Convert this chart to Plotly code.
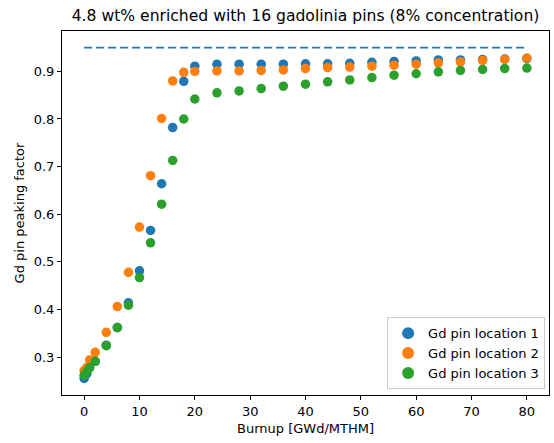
import plotly.graph_objects as go

burnup = [0, 0.5, 1, 2, 4, 6, 8, 10, 12, 14, 16, 18, 20, 24, 28, 32, 36, 40,
          44, 48, 52, 56, 60, 64, 68, 72, 76, 80]

loc1 = [0.255, 0.265, 0.278, 0.291, 0.325, 0.362, 0.414, 0.481, 0.566, 0.664,
        0.782, 0.879, 0.911, 0.915, 0.915, 0.915, 0.915, 0.916, 0.916, 0.917,
        0.919, 0.921, 0.922, 0.924, 0.924, 0.925, 0.926, 0.927]

loc2 = [0.272, 0.278, 0.294, 0.310, 0.352, 0.406, 0.478, 0.573, 0.681, 0.801,
        0.880, 0.898, 0.900, 0.901, 0.901, 0.902, 0.903, 0.906, 0.908, 0.909,
        0.911, 0.913, 0.915, 0.918, 0.920, 0.923, 0.925, 0.928]

loc3 = [0.262, 0.270, 0.278, 0.291, 0.324, 0.362, 0.409, 0.467, 0.540, 0.621,
        0.713, 0.800, 0.842, 0.855, 0.859, 0.864, 0.869, 0.873, 0.878, 0.882,
        0.887, 0.892, 0.895, 0.899, 0.902, 0.904, 0.906, 0.907]

limit_x = [0, 80]
limit_y = [0.95, 0.95]

names = ["Gd pin location 1", "Gd pin location 2", "Gd pin location 3"]
colors = ["#1f77b4", "#ff7f0e", "#2ca02c"]

font = "DejaVu Sans"

fig = go.Figure()
fig.add_trace(go.Scatter(x=limit_x, y=limit_y, mode="lines",
                         line=dict(color="#1f77b4", width=1.8, dash="8px,4px"),
                         showlegend=False, hoverinfo="skip"))
for name, vals, c in zip(names, [loc1, loc2, loc3], colors):
    fig.add_trace(go.Scatter(x=burnup, y=vals, mode="markers", name=name,
                             marker=dict(color=c, size=9.5, line=dict(width=0))))

axis_common = dict(showline=True, linecolor="black", linewidth=1, mirror=True,
                   ticks="outside", ticklen=4, tickwidth=1, tickcolor="black",
                   showgrid=False, zeroline=False,
                   tickfont=dict(family=font, size=13, color="black"))

fig.update_layout(
    width=554, height=443,
    margin=dict(l=62, r=5, t=31, b=48),
    paper_bgcolor="white", plot_bgcolor="white",
    font=dict(family=font, size=13, color="black"),
    title=dict(text="4.8 wt% enriched with 16 gadolinia pins (8% concentration)",
               x=305.5 / 554, xanchor="center", y=1 - 16 / 443, yanchor="middle",
               font=dict(family=font, size=15.6, color="black")),
    xaxis=dict(range=[-4, 84], tickvals=[0, 10, 20, 30, 40, 50, 60, 70, 80],
               title=dict(text="Burnup [GWd/MTHM]", standoff=6,
                          font=dict(family=font, size=13)),
               **axis_common),
    yaxis=dict(range=[0.2203, 0.9848],
               tickvals=[0.3, 0.4, 0.5, 0.6, 0.7, 0.8, 0.9],
               ticktext=["0.3", "0.4", "0.5", "0.6", "0.7", "0.8", "0.9"],
               title=dict(text="Gd pin peaking factor", standoff=6,
                          font=dict(family=font, size=13)),
               **axis_common),
    legend=dict(x=0.992, xanchor="right", y=0.016, yanchor="bottom",
                bgcolor="rgba(255,255,255,0.8)", bordercolor="#cccccc",
                borderwidth=1, font=dict(family=font, size=13),
                itemsizing="constant", tracegroupgap=0),
)

fig.write_html("out.html")
